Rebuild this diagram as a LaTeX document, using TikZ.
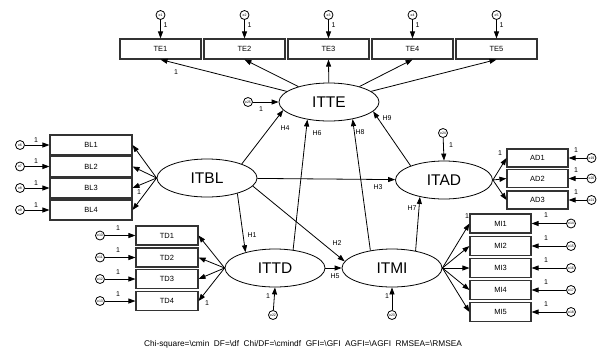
\documentclass[tikz,border=0pt]{standalone}
\usepackage{fontspec}
\setmainfont{Liberation Sans}
\usetikzlibrary{arrows.meta,shapes.geometric}

\begin{document}
\begin{tikzpicture}[x=1pt,y=-1pt,line width=0.8pt,
  >={Triangle[length=7pt,width=5pt]},
  obs/.style={draw=black!80,line width=1.1pt,inner sep=0pt,font=\fontsize{7.5}{8}\selectfont},
  lat/.style={draw,ellipse,inner sep=0pt,minimum width=100pt,minimum height=38pt,font=\fontsize{15.5}{16}\selectfont},
  err/.style={draw,circle,inner sep=0pt,minimum size=9pt,font=\fontsize{3.5}{4}\selectfont},
  one/.style={font=\fontsize{7}{8}\selectfont,inner sep=0pt}]
\useasboundingbox (0,0) rectangle (597,354);

% latent variables
\node[lat] (ITTE) at (329,102) {ITTE};
\node[lat] (ITBL) at (207,178) {ITBL};
\node[lat,minimum width=97pt] (ITAD) at (444,180) {ITAD};
\node[lat] (ITTD) at (275,268) {ITTD};
\node[lat] (ITMI) at (392,268) {ITMI};

% TE indicators
\foreach \i/\x in {1/160.5,2/244.5,3/328.5,4/412.5,5/496.5}{
  \node[obs,minimum width=81pt,minimum height=20pt] (TE\i) at (\x,49) {TE\i};
  \node[err] (e\i) at (\x,15) {e\i};
  \draw[->] (e\i) -- (TE\i.north);
  \node[one] at (\x+5,25) {1};
  \draw[->] (ITTE) -- (TE\i.south);
}
\node[one] at (176,72) {1};

% BL indicators
\foreach \i/\y [evaluate=\i as \e using int(\i+5)] in {1/145,2/166.5,3/188,4/210}{
  \node[obs,minimum width=82pt,minimum height=20pt] (BL\i) at (91,\y) {BL\i};
  \node[err] (e\e) at (20,\y) {e\e};
  \draw[->] (e\e) -- (BL\i.west);
  \node[one] at (36,\y-5) {1};
  \draw[->] (ITBL.west) -- (BL\i.east);
}
\node[one] at (139,192) {1};

% TD indicators
\foreach \i/\y [evaluate=\i as \e using int(\i+9)] in {1/235.5,2/257.5,3/279,4/301}{
  \node[obs,minimum width=62pt,minimum height=19pt] (TD\i) at (167,\y) {TD\i};
  \node[err] (e\e) at (100,\y) {e\e};
  \draw[->] (e\e) -- (TD\i.west);
  \node[one] at (118,\y-7) {1};
  \draw[->] (ITTD.west) -- (TD\i.east);
}
\node[one] at (207,303) {1};

% MI indicators
\foreach \i/\y [evaluate=\i as \e using int(\i+13)] in {1/223.5,2/246,3/268,4/290,5/312}{
  \node[obs,minimum width=61pt,minimum height=19pt] (MI\i) at (500.5,\y) {MI\i};
  \node[err] (e\e) at (571,\y) {e\e};
  \draw[->] (e\e) -- (MI\i.east);
  \node[one] at (546,\y-8) {1};
  \draw[->] (ITMI.east) -- (MI\i.west);
}
\node[one] at (467,216) {1};

% AD indicators
\foreach \i/\y [evaluate=\i as \e using int(\i+18)] in {1/158,2/178.5,3/200}{
  \node[obs,minimum width=61pt,minimum height=18pt] (AD\i) at (537.5,\y) {AD\i};
  \node[err] (e\e) at (591.5,\y) {e\e};
  \draw[->] (e\e) -- (AD\i.east);
  \node[one] at (576,\y-8) {1};
  \draw[->] (ITAD.east) -- (AD\i.west);
}
\node[one] at (500,153) {1};

% residuals of the endogenous factors
\node[err] (e25) at (248,102) {e25};
\draw[->] (e25) -- (ITTE.west);
\node[one] at (261,109) {1};
\node[err] (e24) at (443,133) {e24};
\draw[->] (e24) -- (ITAD.north);
\node[one] at (451,145) {1};
\node[err] (e22) at (273,315) {e22};
\draw[->] (e22) -- (ITTD.south);
\node[one] at (268,296) {1};
\node[err] (e23) at (392,315) {e23};
\draw[->] (e23) -- (ITMI.south);
\node[one] at (387,296) {1};

% hypothesised paths
\draw[->] (ITBL.333) -- (ITTD.152);
\draw[->] (ITBL.350) -- (ITMI.172);
\draw[->] (ITBL) -- (ITAD);
\draw[->] (ITBL.22) -- (ITTE.190);
\draw[->] (ITTD) -- (ITMI);
\draw[->] (ITTD.45) -- (ITTE.219);
\draw[->] (ITMI.36) -- (ITAD.215);
\draw[->] (ITMI.141) -- (ITTE.324);
\draw[->] (ITAD.157) -- (ITTE.348);
\node[one] at (252,235) {H1};
\node[one] at (337,243) {H2};
\node[one] at (378,187) {H3};
\node[one] at (285,128) {H4};
\node[one] at (335,276) {H5};
\node[one] at (317,133) {H6};
\node[one] at (412,208) {H7};
\node[one] at (360,132) {H8};
\node[one] at (387,118) {H9};

\node[font=\fontsize{8.3}{9}\selectfont] (fit) at (303,344)
  {Chi-square=\textbackslash cmin\ \ DF=\textbackslash df\ \ Chi/DF=\textbackslash cmindf\ \ GFI=\textbackslash GFI\ \ AGFI=\textbackslash AGFI\ \ RMSEA=\textbackslash RMSEA};
\end{tikzpicture}
\end{document}
